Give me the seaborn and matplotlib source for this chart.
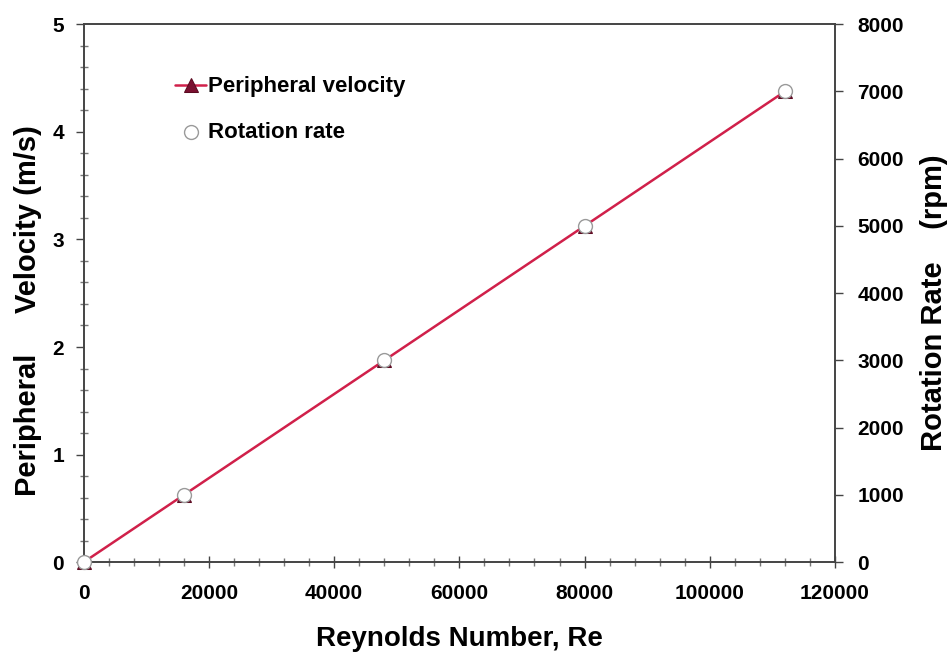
import seaborn as sns
import pandas as pd
import matplotlib.pyplot as plt
from matplotlib.ticker import MultipleLocator

# values
reynolds = [0, 16000, 48000, 80000, 112000]
velocity = [0.0, 0.625, 1.875, 3.125, 4.375]
rotation = [0, 1000, 3000, 5000, 7000]

df = pd.DataFrame({"Re": reynolds, "velocity": velocity, "rotation": rotation})

sns.set_theme(style="white")
plt.rcParams['font.family'] = ['Liberation Sans', 'DejaVu Sans']
plt.rcParams['font.weight'] = 'bold'
plt.rcParams['text.color'] = 'black'
plt.rcParams['axes.labelcolor'] = 'black'
plt.rcParams['xtick.color'] = 'black'
plt.rcParams['ytick.color'] = 'black'

fig = plt.figure(figsize=(9.5, 6.53), dpi=100)
ax = fig.add_axes([0.088, 0.139, 0.791, 0.824])
ax2 = ax.twinx()

sns.lineplot(data=df, x="Re", y="velocity", ax=ax, color="#d0204a", lw=1.8,
             marker="^", markersize=10, markerfacecolor="#7a1030",
             markeredgecolor="#5a0a20", label="Peripheral velocity", legend=False,
             clip_on=False)
sns.scatterplot(data=df, x="Re", y="rotation", ax=ax2, marker="o", s=100,
                facecolor="white", edgecolor="#9a9a9a", linewidth=1.0,
                label="Rotation rate", legend=False, zorder=5, clip_on=False)

ax.set_xlim(0, 120000)
ax.set_ylim(0, 5)
ax2.set_ylim(0, 8000)
ax.xaxis.set_major_locator(MultipleLocator(20000))
ax.xaxis.set_minor_locator(MultipleLocator(4000))
ax.yaxis.set_major_locator(MultipleLocator(1))
ax.yaxis.set_minor_locator(MultipleLocator(0.2))
ax2.yaxis.set_major_locator(MultipleLocator(1000))

for a in (ax, ax2):
    for s in a.spines.values():
        s.set_color("#444444")
        s.set_linewidth(1.2)
    a.tick_params(which="major", direction="out", length=6, width=1, color="#444444",
                  labelsize=15, pad=8, labelcolor="black")
    a.tick_params(which="minor", direction="inout", length=6, width=1, color="#777777")
ax.tick_params(axis="x", which="major", direction="inout", length=8, pad=12)
ax.tick_params(axis="both", which="both", bottom=True, left=True)
ax2.tick_params(axis="y", which="both", right=True, pad=10)

for lbl in ax.get_xticklabels() + ax.get_yticklabels() + ax2.get_yticklabels():
    lbl.set_fontweight("bold")

ax.set_xlabel("Reynolds Number, Re", fontsize=20, fontweight="bold", labelpad=16)
ax.set_ylabel("Peripheral     Velocity (m/s)", fontsize=21, fontweight="bold")
ax2.set_ylabel("Rotation Rate    (rpm)", fontsize=21, fontweight="bold")
ax.yaxis.set_label_coords(-0.056, 0.467)
ax2.yaxis.set_label_coords(1.113, 0.483)

h1, l1 = ax.get_legend_handles_labels()
h2, l2 = ax2.get_legend_handles_labels()
ax.legend(h1 + h2, l1 + l2, loc="upper left", bbox_to_anchor=(0.095, 0.94),
          frameon=False, prop={"weight": "bold", "size": 16},
          handlelength=1.4, handletextpad=0.1, labelspacing=1.1)

plt.savefig("out.png", dpi=100)
